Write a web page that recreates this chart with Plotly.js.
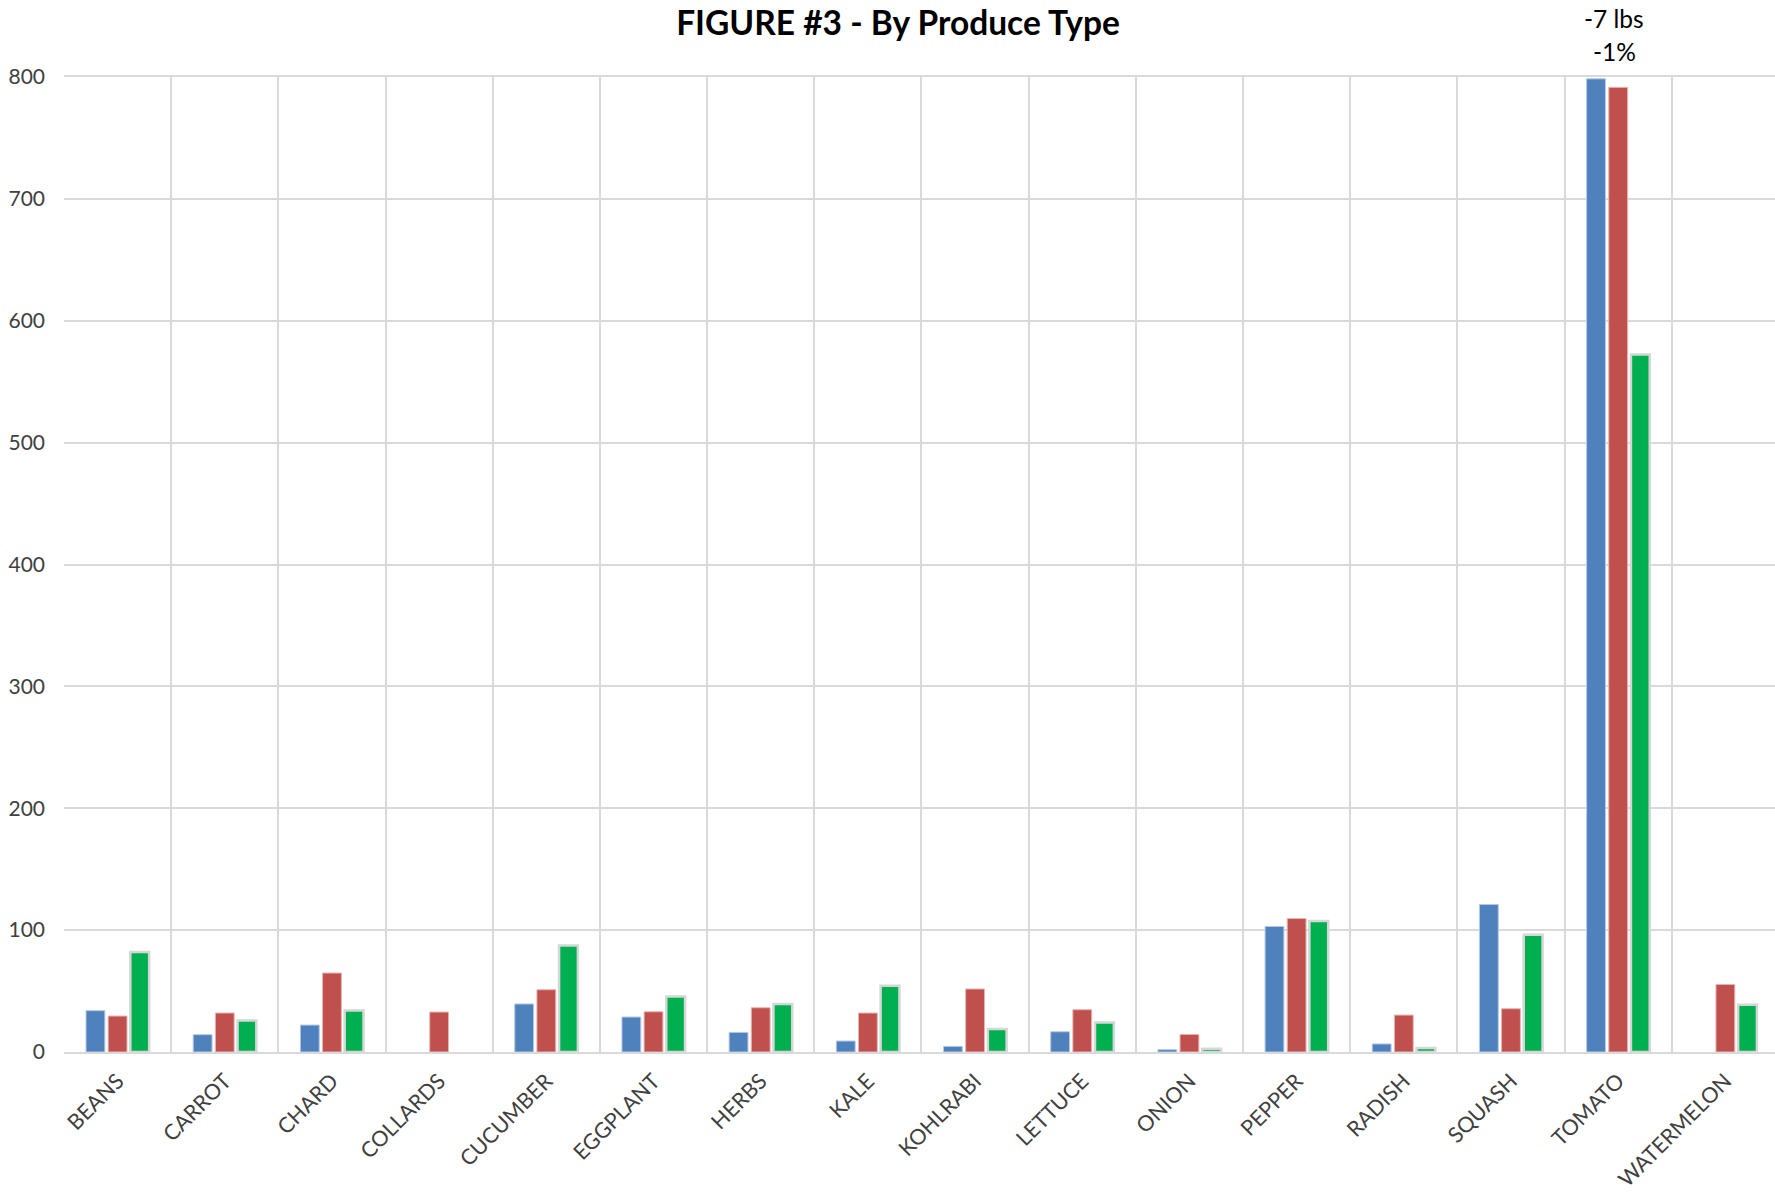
<!DOCTYPE html>
<html>
<head>
<meta charset="utf-8">
<script src="https://cdn.plot.ly/plotly-3.0.1.min.js"></script>
<style>
html,body{margin:0;padding:0;background:#fff;overflow:hidden;}
#chart{width:1775px;height:1193px;}
</style>
</head>
<body>
<div id="chart"></div>
<script>
const categories = ["BEANS","CARROT","CHARD","COLLARDS","CUCUMBER","EGGPLANT","HERBS","KALE","KOHLRABI","LETTUCE","ONION","PEPPER","RADISH","SQUASH","TOMATO","WATERMELON"];
const seriesNames = ["Year 1","Year 2","Year 3"];
const blueValues  = [33.9, 14.2, 22.1, null, 39.4, 28.7, 16.1, 9.0, 4.6, 16.6, 1.9, 103.0, 6.6, 121.0, 798.5, null];
const redValues   = [29.5, 32.0, 64.8, 32.8, 51.1, 33.0, 36.3, 32.0, 51.7, 34.7, 14.4, 109.5, 30.3, 35.5, 791.5, 55.4];
const greenValues = [82.0, 25.9, 34.1, null, 87.4, 45.6, 39.4, 54.4, 18.9, 24.3, 2.7, 107.4, 3.3, 96.2, 572.3, 38.8];
const yTicks = [0,100,200,300,400,500,600,700,800];
const noteLines = ["-7 lbs","-1%"];
const noteCategory = "TOMATO";

const FONT = "Lato, 'Open Sans', sans-serif";

const traces = [
  {type:'bar', name:seriesNames[0], x:categories, y:blueValues,
   marker:{color:'#4F81BD', line:{color:'#B4C8E4', width:1}}},
  {type:'bar', name:seriesNames[1], x:categories, y:redValues,
   marker:{color:'#C0504D', line:{color:'#E6B4B2', width:1}}},
  {type:'bar', name:seriesNames[2], x:categories, y:greenValues,
   marker:{color:'#00B050', line:{color:'#D6D6D6', width:2.5}}}
];

const layout = {
  width:1775, height:1193,
  paper_bgcolor:'#ffffff', plot_bgcolor:'#ffffff',
  margin:{l:64, r:0, t:76.5, b:140.7, pad:0},
  showlegend:false,
  barmode:'group', bargap:0.38, bargroupgap:0.15,
  title:{text:'<b>FIGURE #3 - By Produce Type</b>', font:{family:FONT, size:33.5, color:'#000000'},
         xref:'container', x:898/1775, xanchor:'center',
         yref:'container', y:1-23/1193, yanchor:'middle'},
  font:{family:FONT, color:'#404040'},
  xaxis:{type:'category', categoryorder:'array', categoryarray:categories,
         range:[-0.5, 15.463], tickson:'boundaries',
         showgrid:true, gridcolor:'#D9D9D9', gridwidth:2,
         showline:true, linecolor:'#D9D9D9', linewidth:2, mirror:true,
         ticks:'', tickangle:-45, tickfont:{family:FONT, size:21.5, color:'#404040'},
         ticklabelstandoff:6, fixedrange:true},
  yaxis:{range:[0,800], tickvals:yTicks, ticktext:yTicks.map(String),
         showgrid:true, gridcolor:'#D9D9D9', gridwidth:2, zeroline:false,
         showline:false, ticks:'', tickfont:{family:FONT, size:21, color:'#404040'},
         ticklabelstandoff:18, fixedrange:true},
  annotations:[
    {x:noteCategory, y:1, xref:'x', yref:'paper', yshift:59, text:noteLines[0],
     showarrow:false, xanchor:'center', yanchor:'middle', xshift:-4,
     font:{family:FONT, size:24.5, color:'#000000'}},
    {x:noteCategory, y:1, xref:'x', yref:'paper', yshift:25.5, text:noteLines[1],
     showarrow:false, xanchor:'center', yanchor:'middle', xshift:-4,
     font:{family:FONT, size:24.5, color:'#000000'}}
  ]
};

Plotly.newPlot('chart', traces, layout, {displayModeBar:false, staticPlot:true});
</script>
</body>
</html>
